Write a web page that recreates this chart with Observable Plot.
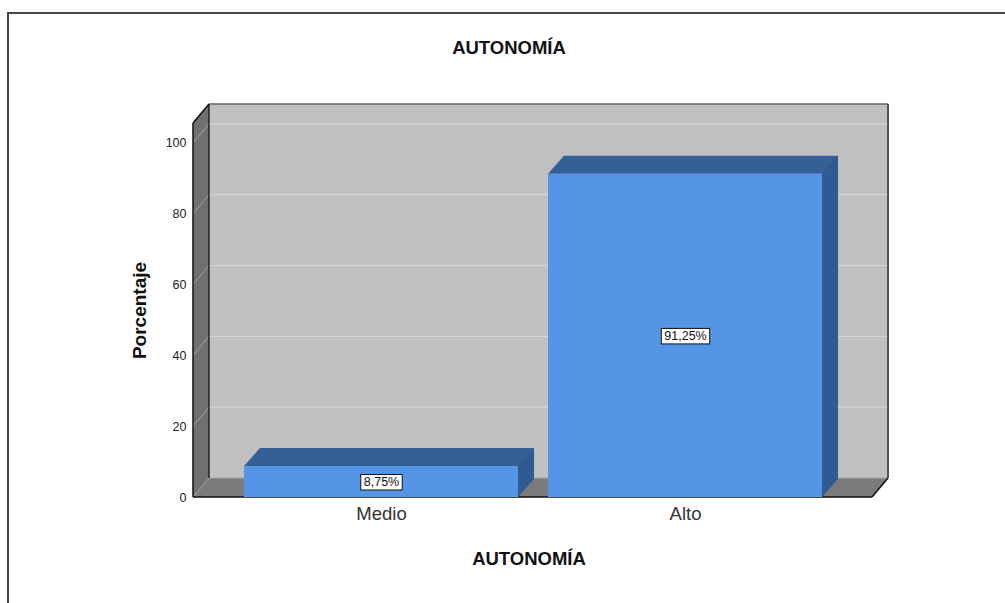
<!DOCTYPE html>
<html>
<head>
<meta charset="utf-8">
<script src="https://cdn.jsdelivr.net/npm/d3@7"></script>
<script src="https://cdn.jsdelivr.net/npm/@observablehq/plot@0.6"></script>
<style>
  html, body { margin: 0; padding: 0; background: #fff; overflow: hidden; }
  #frame { position: absolute; left: 7px; top: 12px; width: 2000px; height: 2000px;
           border-top: 2px solid #474747; border-left: 2px solid #474747; }
  #chart { position: absolute; left: 0; top: 0; }
</style>
</head>
<body>
<div id="frame"></div>
<div id="chart"></div>
<script>
// ---- data ----
const categories = ["Medio", "Alto"];
const percentages = [8.75, 91.25];
const valueLabels = ["8,75%", "91,25%"];
const yTicks = [0, 20, 40, 60, 80, 100];
const chartTitle = "AUTONOMÍA";
const xTitle = "AUTONOMÍA";
const yTitle = "Porcentaje";

const rows = categories.map((c, i) => ({cat: c, pct: percentages[i], label: valueLabels[i]}));

// ---- 3D styling (depth offsets in pixels) ----
const DX = 16, DY = -19;   // walls depth
const BDX = 16, BDY = -18; // bar depth

function polygon(g, pts, fill, stroke, sw) {
  const p = g.append("polygon")
    .attr("points", pts.map(d => d.join(",")).join(" "))
    .attr("fill", fill);
  if (stroke) p.attr("stroke", stroke).attr("stroke-width", sw || 1).attr("stroke-linejoin", "round");
  return p;
}
function line(g, x1, y1, x2, y2, stroke, sw) {
  g.append("line").attr("x1", x1).attr("y1", y1).attr("x2", x2).attr("y2", y2)
    .attr("stroke", stroke).attr("stroke-width", sw || 1);
}

function walls(index, scales, values, dims) {
  const y = scales.y;
  const L = dims.marginLeft, R = dims.width - dims.marginRight;
  const T = dims.marginTop, B = dims.height - dims.marginBottom;
  const g = d3.create("svg:g");
  // back wall
  g.append("rect").attr("x", L + DX).attr("y", T + DY).attr("width", R - L).attr("height", B - T).attr("fill", "#c0c0c0");
  for (const t of yTicks) {
    if (t === 0) continue;
    line(g, L + DX, y(t) + DY, R + DX, y(t) + DY, "#d4d4d4", 1.2);
  }
  // left wall
  polygon(g, [[L, B], [L, T], [L + DX, T + DY], [L + DX, B + DY]], "#707070");
  for (const t of yTicks) {
    if (t === 0) continue;
    line(g, L, y(t), L + DX, y(t) + DY, "#a3a3a3", 1);
  }
  // floor
  polygon(g, [[L, B], [R, B], [R + DX, B + DY], [L + DX, B + DY]], "#7a7a7a");
  line(g, L, B, L + DX, B + DY, "#a3a3a3", 1);
  line(g, L + DX, B + DY, R + DX, B + DY, "#a8a8a8", 1);
  // edges
  line(g, L + DX, T + DY, R + DX, T + DY, "#666", 1.5);
  line(g, R + DX, T + DY, R + DX, B + DY, "#555", 2);
  line(g, L + DX, T + DY, L + DX, B + DY, "#222", 1.5);
  line(g, L, T, L + DX, T + DY, "#111", 1.5);
  line(g, L, T, L, B, "#111", 1.5);
  line(g, L, B, R, B, "#111", 1.5);
  line(g, R, B, R + DX, B + DY, "#111", 1.5);
  return g.node();
}

function barSides(index, scales) {
  const x = scales.x, y = scales.y;
  const bw = x.bandwidth();
  const g = d3.create("svg:g");
  categories.forEach((c, i) => {
    const x0 = x(c), x1 = x0 + bw, y0 = y(0), yv = y(percentages[i]);
    polygon(g, [[x1, yv], [x1, y0], [x1 + BDX, y0 + BDY], [x1 + BDX, yv + BDY]], "#305b92");
    polygon(g, [[x0, yv], [x1, yv], [x1 + BDX, yv + BDY], [x0 + BDX, yv + BDY]], "#355f97");
    line(g, x1, yv, x1 + BDX, yv + BDY, "#2a5184", 0.8);
  });
  return g.node();
}

const chart = Plot.plot({
  width: 1005,
  height: 603,
  marginLeft: 193,
  marginRight: 133,
  marginTop: 123,
  marginBottom: 106,
  style: {fontFamily: "'Liberation Sans', Arial, sans-serif", color: "#222", background: "transparent"},
  x: {domain: categories, paddingInner: 0.1, paddingOuter: 0.164, label: null},
  y: {domain: [0, 105.6], label: null},
  marks: [
    walls,
    barSides,
    Plot.barY(rows, {x: "cat", y: "pct", fill: "#5595e5", inset: 0}),
    Plot.text(rows, {x: "cat", y: d => d.pct / 2, text: "label", fontSize: 12.5, fill: "#111"}),
    Plot.axisY({ticks: yTicks, tickSize: 0, tickPadding: 7, fontSize: 12.5, label: null, color: "#222"}),
    Plot.axisX({tickSize: 0, tickPadding: 9, fontSize: 18.5, label: null, color: "#333"}),
    Plot.text([yTitle], {frameAnchor: "left", textAnchor: "middle", rotate: -90, dx: -54, fontSize: 19, fontWeight: "bold", fill: "#111"}),
    Plot.text([xTitle], {frameAnchor: "bottom", dx: -4, dy: 67, fontSize: 18.5, fontWeight: "bold", fill: "#111"}),
    Plot.text([chartTitle], {frameAnchor: "top", dx: -24, dy: -83, fontSize: 18.5, fontWeight: "bold", fill: "#111"})
  ]
});
document.getElementById("chart").append(chart);

// white boxes behind the value labels
chart.querySelectorAll("text").forEach(t => {
  if (!valueLabels.includes(t.textContent)) return;
  const bb = t.getBBox();
  const r = document.createElementNS("http://www.w3.org/2000/svg", "rect");
  r.setAttribute("x", bb.x - 3);
  r.setAttribute("y", bb.y - 0.5);
  r.setAttribute("width", bb.width + 6);
  r.setAttribute("height", bb.height + 1.5);
  r.setAttribute("fill", "#fff");
  r.setAttribute("stroke", "#111");
  r.setAttribute("stroke-width", 1);
  const tr = t.getAttribute("transform");
  if (tr) r.setAttribute("transform", tr);
  t.parentNode.insertBefore(r, t);
});
</script>
</body>
</html>
